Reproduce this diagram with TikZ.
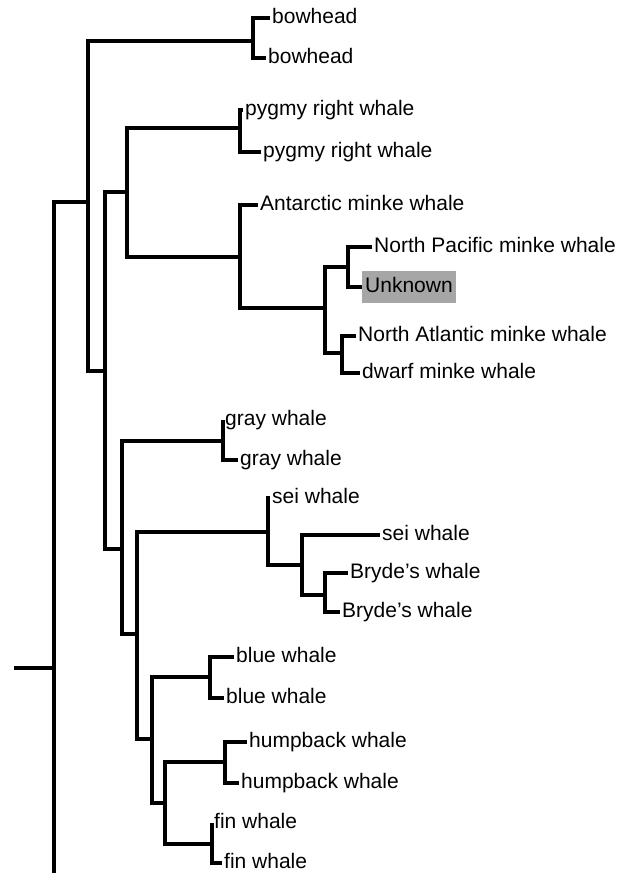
\documentclass[tikz,border=0pt]{standalone}
\usepackage{fontspec}
\setmainfont{Liberation Sans}
\begin{document}
\begin{tikzpicture}[x=1pt,y=-1pt]
\tikzset{branch/.style={line width=3.2pt},
  leaf/.style={anchor=west, inner xsep=2pt, inner ysep=0pt, text height=15pt, text depth=4pt, font=\fontsize{21}{25}\selectfont}}
\useasboundingbox (0,0) rectangle (622,873);
% internal nodes of the tree
\coordinate (stub) at (14,668);
\coordinate (root) at (54,668);
\coordinate (rootend) at (54,873);
\coordinate (mysti) at (88,202);
\coordinate (bowhd) at (253,41);
\coordinate (rest) at (105,371);
\coordinate (upper) at (127,192);
\coordinate (pygmy) at (240,128);
\coordinate (minke) at (240,257);
\coordinate (nthmk) at (325,308);
\coordinate (pac) at (348,267);
\coordinate (atl) at (342,353);
\coordinate (lower) at (122,549);
\coordinate (gray) at (223,441);
\coordinate (rorq) at (137,634);
\coordinate (seibr) at (268,532);
\coordinate (sb) at (302,565);
\coordinate (bryde) at (325,595);
\coordinate (bfh) at (152,739);
\coordinate (blue) at (210,677);
\coordinate (hf) at (165,803);
\coordinate (hump) at (225,762);
\coordinate (fin) at (212,844);
% leaves
\node [leaf] (bow1) at (270,18) {bowhead};
\node [leaf] (bow2) at (266,58) {bowhead};
\node [leaf] (pyg1) at (243,110) {pygmy right whale};
\node [leaf] (pyg2) at (261,152) {pygmy right whale};
\node [leaf] (antm) at (258,205) {Antarctic minke whale};
\node [leaf] (npac) at (372,247) {North Pacific minke whale};
\node [leaf, fill=black!35, inner xsep=3pt, inner ysep=6.5pt] (unkn) at (362,287) {Unknown};
\node [leaf] (natl) at (356,336) {North Atlantic minke whale};
\node [leaf] (dwrf) at (360,373) {dwarf minke whale};
\node [leaf] (gry1) at (223,420) {gray whale};
\node [leaf] (gry2) at (238,460) {gray whale};
\node [leaf] (sei1) at (270,498) {sei whale};
\node [leaf] (sei2) at (380,535) {sei whale};
\node [leaf] (bry1) at (348,573) {Bryde's whale};
\node [leaf] (bry2) at (340,612) {Bryde's whale};
\node [leaf] (blu1) at (234,657) {blue whale};
\node [leaf] (blu2) at (224,698) {blue whale};
\node [leaf] (hmp1) at (247,742) {humpback whale};
\node [leaf] (hmp2) at (239,783) {humpback whale};
\node [leaf] (fin1) at (212,823) {fin whale};
\node [leaf] (fin2) at (222,863) {fin whale};
% branches
\draw [branch] (stub) -- (root);
\draw [branch] (root) -- (rootend);
\draw [branch] (root) |- (mysti);
\draw [branch] (mysti) |- (bowhd);
\draw [branch] (mysti) |- (rest);
\draw [branch] (bowhd) |- (bow1.west);
\draw [branch] (bowhd) |- (bow2.west);
\draw [branch] (rest) |- (upper);
\draw [branch] (rest) |- (lower);
\draw [branch] (upper) |- (pygmy);
\draw [branch] (upper) |- (minke);
\draw [branch] (pygmy) |- (pyg1.west);
\draw [branch] (pygmy) |- (pyg2.west);
\draw [branch] (minke) |- (antm.west);
\draw [branch] (minke) |- (nthmk);
\draw [branch] (nthmk) |- (pac);
\draw [branch] (nthmk) |- (atl);
\draw [branch] (pac) |- (npac.west);
\draw [branch] (pac) |- (unkn.west);
\draw [branch] (atl) |- (natl.west);
\draw [branch] (atl) |- (dwrf.west);
\draw [branch] (lower) |- (gray);
\draw [branch] (lower) |- (rorq);
\draw [branch] (gray) |- (gry1.west);
\draw [branch] (gray) |- (gry2.west);
\draw [branch] (rorq) |- (seibr);
\draw [branch] (rorq) |- (bfh);
\draw [branch] (seibr) |- (sei1.west);
\draw [branch] (seibr) |- (sb);
\draw [branch] (sb) |- (sei2.west);
\draw [branch] (sb) |- (bryde);
\draw [branch] (bryde) |- (bry1.west);
\draw [branch] (bryde) |- (bry2.west);
\draw [branch] (bfh) |- (blue);
\draw [branch] (bfh) |- (hf);
\draw [branch] (blue) |- (blu1.west);
\draw [branch] (blue) |- (blu2.west);
\draw [branch] (hf) |- (hump);
\draw [branch] (hf) |- (fin);
\draw [branch] (hump) |- (hmp1.west);
\draw [branch] (hump) |- (hmp2.west);
\draw [branch] (fin) |- (fin1.west);
\draw [branch] (fin) |- (fin2.west);
\end{tikzpicture}
\end{document}
